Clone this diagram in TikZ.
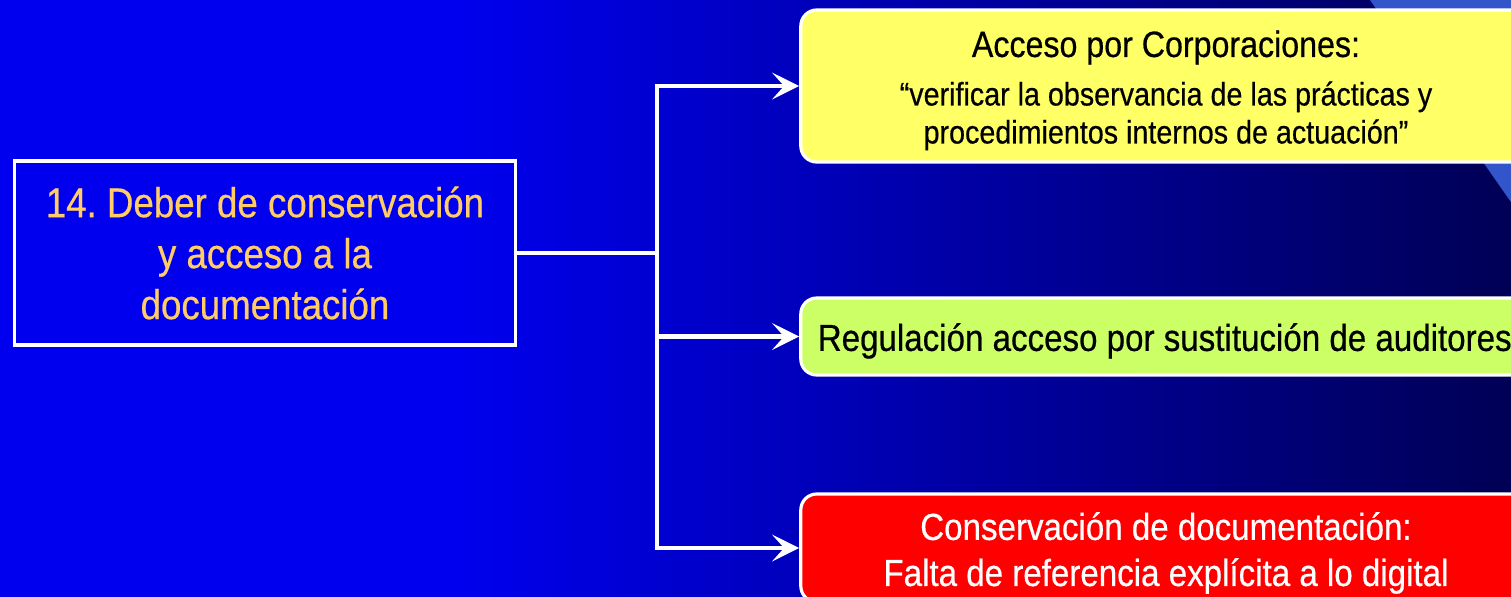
\documentclass[tikz,border=0pt]{standalone}
\usepackage{fontspec}
\setmainfont{Liberation Sans}[FakeStretch=0.88,FakeBold=0.5]
\usepackage{xcolor}
\usepackage{tikz}
\usetikzlibrary{arrows.meta}
\usetikzlibrary{backgrounds,positioning,calc}
\pgfdeclarelayer{edgelayer}
\pgfdeclarelayer{nodelayer}
\pgfsetlayers{background,edgelayer,nodelayer,main}
\definecolor{bgleft}{RGB}{0,0,238}
\definecolor{bgright}{RGB}{0,0,85}
\definecolor{wedge}{RGB}{51,85,204}
\definecolor{titlegold}{RGB}{255,204,102}
\definecolor{accyellow}{RGB}{255,255,102}
\definecolor{reglime}{RGB}{204,255,102}
\definecolor{consred}{RGB}{255,0,0}
\pgfdeclarehorizontalshading{slidebg}{100bp}{color(0bp)=(bgleft); color(25bp)=(bgleft); color(40bp)=(bgleft); color(75bp)=(bgright); color(100bp)=(bgright)}
\newcommand{\lift}[1]{\rule{0pt}{#1}}
\tikzstyle{topic}=[draw=white,line width=1pt,minimum width=5.01cm,minimum height=1.84cm,align=center,text=titlegold,font=\fontsize{11.85}{14.5}\selectfont]
\tikzstyle{card}=[draw=white,line width=0.9pt,rounded corners=0.16cm,minimum width=7.3cm,align=center,inner sep=0pt]
\tikzstyle{link}=[draw=white,line width=1.2pt]
\tikzstyle{arrowlink}=[link,-{Stealth[length=7.7pt,width=7.6pt,inset=3.4pt]}]
\frenchspacing

\begin{document}
\begin{tikzpicture}[x=0.01cm,y=-0.01cm]
	\useasboundingbox (0,0) rectangle (1511,596);
	\begin{pgfonlayer}{background}
		\fill [shading=slidebg] (0,0) rectangle (1511,596);
		\fill [wedge] (1370,0) -- (1520,0) -- (1520,215) -- cycle;
	\end{pgfonlayer}
	\begin{pgfonlayer}{nodelayer}
		\node [style=topic] (deber) at (265,253) {14. Deber de conservación\\y acceso a la\\documentación};
		\node [style=card,fill=accyellow,minimum height=1.52cm,font=\fontsize{9.27}{10.8}\selectfont] (corp) at (1166,86) {\lift{10pt}{\fontsize{10.4}{13.9}\selectfont Acceso por Corporaciones:}\\[3pt]“verificar la observancia de las prácticas y\\procedimientos internos de actuación”};
		\node [style=card,fill=reglime,minimum height=0.77cm,font=\fontsize{10.7}{13}\selectfont] (audit) at (1166,336.5) {\lift{10.4pt}\makebox[6.96cm][l]{Regulación acceso por sustitución de auditores}};
		\node [style=card,fill=consred,text=white,minimum height=1.08cm,font=\fontsize{10.7}{13.1}\selectfont] (digital) at (1166,548) {\lift{10.7pt}Conservación de documentación:\\Falta de referencia explícita a lo digital};
		\coordinate (split) at (657,253);
	\end{pgfonlayer}
	\begin{pgfonlayer}{edgelayer}
		\draw [style=link] (deber.east) -- (split);
		\draw [style=arrowlink] (split) |- (corp.west);
		\draw [style=arrowlink] (split) |- (audit.west);
		\draw [style=arrowlink] (split) |- (digital.west);
	\end{pgfonlayer}
\end{tikzpicture}
\end{document}
